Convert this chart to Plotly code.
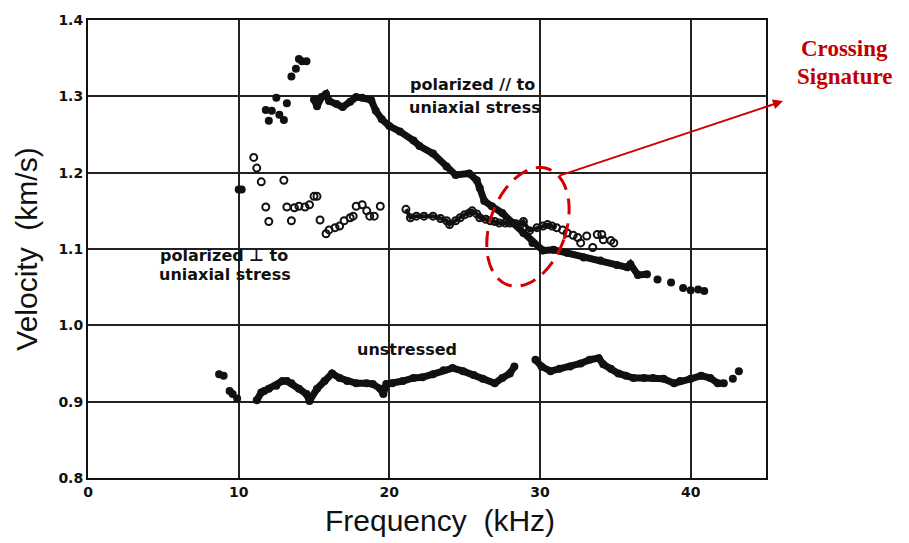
import plotly.graph_objects as go
import numpy as np

# ---- data (frequency in kHz, velocity in km/s) ----
# polarized // to uniaxial stress : isolated points
par_sparse_f = [10.0, 10.2, 11.8, 12.0, 12.2, 12.5, 12.7, 13.0, 13.2, 13.5, 13.8, 14.0, 14.2, 14.5,
                37.8, 38.7, 39.5, 40.0, 40.5, 40.9]
par_sparse_v = [1.178, 1.178, 1.282, 1.268, 1.281, 1.298, 1.276, 1.269, 1.291, 1.326, 1.336, 1.349, 1.346, 1.346,
                1.060, 1.056, 1.049, 1.046, 1.047, 1.045]
# polarized // to uniaxial stress : dense band
par_band_f = [15.0, 15.2, 15.5, 15.8, 16.0, 16.5, 16.9, 17.4, 17.8, 18.2, 18.8, 19.1, 19.5, 20.0, 20.7, 21.6,
              22.0, 22.9, 23.8, 24.4, 25.3, 25.8, 26.0, 26.3, 26.8, 27.5, 28.2, 28.9, 29.5, 30.2, 30.9,
              31.8, 32.9, 34.0, 35.1, 35.8, 36.0, 36.5, 37.1]
par_band_v = [1.296, 1.287, 1.299, 1.303, 1.294, 1.290, 1.286, 1.293, 1.299, 1.298, 1.295, 1.281, 1.270, 1.261,
              1.254, 1.242, 1.235, 1.225, 1.208, 1.197, 1.199, 1.190, 1.180, 1.163, 1.156, 1.147, 1.134,
              1.121, 1.108, 1.098, 1.099, 1.095, 1.089, 1.085, 1.079, 1.076, 1.080, 1.066, 1.067]

# polarized perpendicular to uniaxial stress (open circles): scattered part
perp_f = [11.0, 11.2, 11.5, 11.8, 12.0, 13.0, 13.2, 13.5, 13.7, 14.0, 14.4, 14.7, 15.0, 15.2, 15.4, 15.8,
          16.0, 16.4, 16.7, 17.0, 17.4, 17.6, 17.8, 18.2, 18.5, 18.7, 19.0, 19.4,
          31.5, 31.8, 32.2, 32.5, 32.7, 33.1, 33.5, 33.8, 34.1, 34.2, 34.7, 34.9]
perp_v = [1.220, 1.206, 1.188, 1.155, 1.136, 1.190, 1.155, 1.137, 1.154, 1.156, 1.155, 1.158, 1.169, 1.169,
          1.138, 1.120, 1.125, 1.128, 1.130, 1.137, 1.141, 1.143, 1.156, 1.158, 1.150, 1.143, 1.143, 1.156,
          1.125, 1.121, 1.118, 1.115, 1.108, 1.117, 1.102, 1.119, 1.119, 1.112, 1.111, 1.108]
# polarized perpendicular to uniaxial stress: dense band
perp_band_f = [21.1, 21.4, 21.8, 22.3, 22.9, 23.4, 23.8, 24.0, 24.4, 24.7, 25.0, 25.3, 25.5, 25.8, 26.0,
               26.4, 26.7, 27.0, 27.3, 27.7, 28.0, 28.4, 28.7, 28.9, 29.3, 29.8, 30.2, 30.5, 30.8, 31.1]
perp_band_v = [1.152, 1.141, 1.143, 1.143, 1.143, 1.140, 1.137, 1.132, 1.137, 1.141, 1.145, 1.147, 1.150,
               1.146, 1.141, 1.139, 1.137, 1.136, 1.134, 1.134, 1.134, 1.133, 1.132, 1.136, 1.124, 1.128,
               1.130, 1.132, 1.130, 1.128]

# unstressed (filled dots)
uns_sparse_f = [8.7, 9.0, 9.4, 9.6, 9.9, 42.8, 43.2]
uns_sparse_v = [0.936, 0.934, 0.914, 0.910, 0.904, 0.930, 0.940]
uns_a_f = [11.2, 11.5, 11.7, 12.0, 12.5, 12.9, 13.2, 13.5, 14.0, 14.5, 14.7, 15.2, 15.7, 16.2, 16.7, 17.2,
           17.8, 18.5, 18.9, 19.4, 19.6, 19.8, 20.2, 20.9, 21.6, 22.2, 22.9, 23.6, 24.2, 24.9, 25.6,
           26.2, 27.0, 27.5, 28.0, 28.3]
uns_a_v = [0.902, 0.912, 0.914, 0.917, 0.921, 0.927, 0.927, 0.924, 0.917, 0.910, 0.901, 0.917, 0.927,
           0.937, 0.931, 0.927, 0.924, 0.924, 0.923, 0.917, 0.910, 0.923, 0.924, 0.927, 0.931, 0.932,
           0.936, 0.941, 0.944, 0.940, 0.935, 0.930, 0.924, 0.931, 0.937, 0.946]
uns_b_f = [29.7, 30.1, 30.7, 31.3, 32.0, 32.7, 33.3, 33.9, 34.2, 34.7, 35.2, 35.7, 36.2, 36.9, 37.5, 38.2,
           38.9, 39.3, 40.0, 40.7, 41.3, 41.8, 42.2]
uns_b_v = [0.955, 0.946, 0.940, 0.943, 0.946, 0.950, 0.955, 0.957, 0.949, 0.943, 0.937, 0.934, 0.931,
           0.931, 0.931, 0.930, 0.924, 0.927, 0.930, 0.934, 0.931, 0.924, 0.924]

x_ticks = [0, 10, 20, 30, 40]
y_ticks = [0.8, 0.9, 1.0, 1.1, 1.2, 1.3, 1.4]

BLACK = "#111111"
RED = "#c00000"
SANS = "Liberation Sans, Arial, sans-serif"
DVB = "DejaVu Sans, sans-serif"

fig = go.Figure()

dot = dict(color=BLACK, size=8, line=dict(width=0))
band_line = dict(color=BLACK, width=7)
ring = dict(symbol="circle-open", color=BLACK, size=7, line=dict(width=2, color=BLACK))

fig.add_trace(go.Scatter(x=par_sparse_f, y=par_sparse_v, mode="markers", marker=dot, showlegend=False))
fig.add_trace(go.Scatter(x=par_band_f, y=par_band_v, mode="lines+markers", marker=dot, line=band_line,
                         showlegend=False))
fig.add_trace(go.Scatter(x=perp_f, y=perp_v, mode="markers", marker=ring, showlegend=False))
fig.add_trace(go.Scatter(x=perp_band_f, y=perp_band_v, mode="lines+markers", marker=ring,
                         line=dict(color=BLACK, width=4), showlegend=False))
fig.add_trace(go.Scatter(x=uns_sparse_f, y=uns_sparse_v, mode="markers", marker=dot, showlegend=False))
fig.add_trace(go.Scatter(x=uns_a_f, y=uns_a_v, mode="lines+markers", marker=dot, line=band_line,
                         showlegend=False))
fig.add_trace(go.Scatter(x=uns_b_f, y=uns_b_v, mode="lines+markers", marker=dot, line=band_line,
                         showlegend=False))

label_font = dict(family=DVB, size=16, color=BLACK)
for txt, x, y in [("polarized // to", 25.5, 1.316), ("uniaxial stress", 25.7, 1.286),
                  ("polarized ⊥ to", 9.05, 1.092), ("uniaxial stress", 9.1, 1.066),
                  ("unstressed", 21.2, 0.968)]:
    fig.add_annotation(x=x, y=y, text=f"<b>{txt}</b>", showarrow=False, font=label_font,
                       xanchor="center", yanchor="middle")

# red dashed ellipse around the crossing (built in pixel-scaled space)
px_per_x = 15.03
px_per_y = 771.7
cx, cy = 29.2, 1.129
a_px, b_px, tilt = 62.0, 38.0, np.deg2rad(18.6)
t = np.linspace(0, 2 * np.pi, 80)
ux = b_px * np.cos(t)
uy = a_px * np.sin(t)
rx = ux * np.cos(tilt) + uy * np.sin(tilt)
ry = -ux * np.sin(tilt) + uy * np.cos(tilt)
ex = cx + rx / px_per_x
ey = cy + ry / px_per_y
path = "M " + " L ".join(f"{xx:.4f},{yy:.5f}" for xx, yy in zip(ex, ey)) + " Z"
fig.add_shape(type="path", path=path, xref="x", yref="y",
              line=dict(color="#d40000", width=3, dash="16px,9px"))

# arrow and label
fig.add_annotation(xref="paper", yref="paper", x=(783 - 88) / 678, y=(478 - 97) / 463,
                   ax=-225, ay=75, axref="pixel", ayref="pixel", text="", showarrow=True,
                   arrowhead=2, arrowsize=1, arrowwidth=2, arrowcolor="#cc0000")
serif = dict(family="Liberation Serif, DejaVu Serif, serif", size=23, color=RED)
fig.add_annotation(xref="paper", yref="paper", x=(844 - 88) / 678, y=(478 - 44) / 463, text="<b>Crossing</b>",
                   showarrow=False, font=serif, xanchor="center", yanchor="middle")
fig.add_annotation(xref="paper", yref="paper", x=(844 - 88) / 678, y=(478 - 72) / 463, text="<b>Signature</b>",
                   showarrow=False, font=serif, xanchor="center", yanchor="middle")

# x-axis title placed to match reference position
fig.add_annotation(xref="paper", yref="paper", x=(440 - 88) / 678, y=-(521 - 478) / 463,
                   text="Frequency\u00a0\u00a0(kHz)", showarrow=False,
                   font=dict(family=SANS, size=30, color=BLACK), xanchor="center", yanchor="middle")

tick_font = dict(family=DVB, size=14, color=BLACK)
axis_common = dict(showline=True, linecolor=BLACK, linewidth=2, mirror=True,
                   showgrid=True, gridcolor="#222222", gridwidth=1.5, zeroline=False,
                   ticks="", tickfont=tick_font)

fig.update_xaxes(range=[0, 45], tickvals=x_ticks, ticktext=[f"<b>{v}</b>" for v in x_ticks],
                 **axis_common)
fig.update_yaxes(range=[0.8, 1.4], tickvals=y_ticks, ticktext=[f"<b>{v:.1f}</b>" for v in y_ticks],
                 title=dict(text="Velocity\u00a0\u00a0(km/s)", font=dict(family=SANS, size=30, color=BLACK), standoff=12),
                 **axis_common)

fig.update_layout(width=909, height=543, margin=dict(l=88, r=143, t=15, b=65),
                  paper_bgcolor="white", plot_bgcolor="white", showlegend=False)

fig.write_html("out.html")
